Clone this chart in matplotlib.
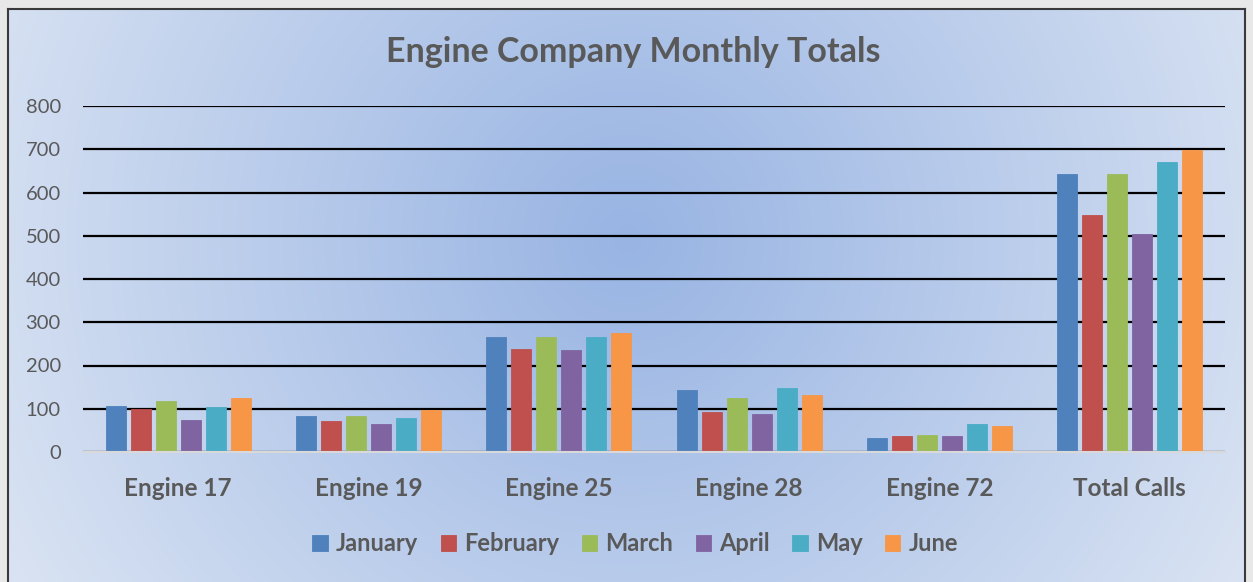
import numpy as np
import matplotlib.pyplot as plt

# ==========================
# Data
# ==========================
categories = ["Engine 17", "Engine 19", "Engine 25", "Engine 28", "Engine 72", "Total Calls"]
months = ["January", "February", "March", "April", "May", "June"]

january = [107, 83, 266, 144, 33, 642]
february = [100, 72, 238, 92, 37, 548]
march = [117, 84, 267, 126, 39, 642]
april = [73, 65, 235, 88, 36, 505]
may = [104, 78, 267, 149, 64, 671]
june = [124, 98, 275, 132, 59, 699]

series = [january, february, march, april, may, june]
colors = ["#4f81bd", "#c0504d", "#9bbb59", "#8064a2", "#4bacc6", "#f79646"]

plt.rcParams["font.family"] = ["Lato", "DejaVu Sans"]
text_color = "#595959"

# ==========================
# Figure + gradient background
# ==========================
fig = plt.figure(figsize=(12.53, 5.82), dpi=100)
fig.patch.set_facecolor("#e8e8e8")

bg = fig.add_axes([0.006, 0.0, 0.988, 0.985])
h, w = 300, 640
yy, xx = np.mgrid[0:h, 0:w]
cx, cy = 0.50 * w, 0.40 * h
r = np.sqrt(((xx - cx) / (0.62 * w)) ** 2 + ((yy - cy) / (0.62 * w)) ** 2)
r = np.clip(r, 0, 1)
inner = np.array([0x98, 0xb4, 0xe3]) / 255
outer = np.array([0xdf, 0xe7, 0xf4]) / 255
img = inner[None, None, :] * (1 - r[..., None]) + outer[None, None, :] * r[..., None]
bg.imshow(img, aspect="auto", extent=[0, 1, 0, 1])
bg.set_xlim(0, 1)
bg.set_ylim(0, 1)
bg.set_xticks([])
bg.set_yticks([])
for s in bg.spines.values():
    s.set_color("#3a3a3a")
    s.set_linewidth(1.5)
bg.spines["bottom"].set_visible(False)

# ==========================
# Bar chart
# ==========================
ax = fig.add_axes([83 / 1253, 1 - 452 / 582, (1225 - 83) / 1253, (452 - 106) / 582])
ax.patch.set_alpha(0)

x = np.arange(len(categories))
slot = 25 / 190
bar_w = 20 / 190
for i, (vals, c) in enumerate(zip(series, colors)):
    offs = (i - 2.5) * slot
    ax.bar(x + offs, vals, width=bar_w, color=c, edgecolor=c, linewidth=0.6,
           label=months[i], zorder=3)

ax.set_xlim(-0.5, len(categories) - 0.5)
ax.set_ylim(0, 800)
ax.set_yticks(range(0, 801, 100))
ax.yaxis.grid(True, color="black", linewidth=1.6, zorder=1)
ax.set_axisbelow(True)
for s in ["top", "right", "left"]:
    ax.spines[s].set_visible(False)
ax.spines["bottom"].set_color("#d9d9d9")
ax.spines["bottom"].set_linewidth(1.5)
ax.spines["bottom"].set_zorder(4)
ax.tick_params(axis="both", length=0)
ax.tick_params(axis="y", labelsize=14.5, labelcolor=text_color, pad=16)
ax.set_xticks(x)
ax.set_xticklabels(categories, fontsize=17.5, fontweight="bold", color=text_color)
ax.tick_params(axis="x", pad=18)

fig.text(0.505, 0.91, "Engine Company Monthly Totals", ha="center", va="center",
         fontsize=24.5, fontweight="bold", color=text_color)

leg = fig.legend(loc="center", bbox_to_anchor=(0.507, 0.066), ncol=6, frameon=False,
                 handlelength=0.65, handleheight=0.65, handletextpad=0.35,
                 columnspacing=0.95, prop={"size": 17, "weight": "bold"})
for t in leg.get_texts():
    t.set_color(text_color)

plt.savefig("out.png", dpi=100, facecolor=fig.get_facecolor())
